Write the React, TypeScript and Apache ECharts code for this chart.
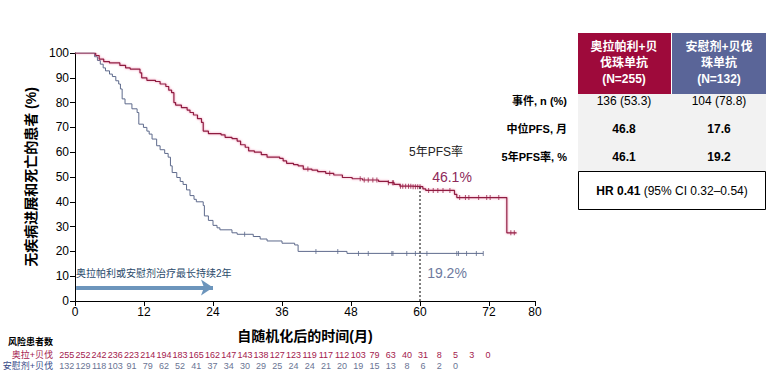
import React, { useEffect, useRef } from "react";
import * as echarts from "echarts";

// ---- data ----
const xTickMax = 80;
const olaparibCurve: [number, number][] = [
  [0, 100], [3.6, 99], [4.2, 97.5], [5, 96.5], [6, 96], [7.8, 95], [8.8, 94], [9.6, 93.5],
  [11.3, 92], [11.6, 90], [12.5, 89], [14, 88.5], [14.8, 87.5], [15.8, 86.5], [16.3, 85],
  [16.8, 84], [17.2, 80], [17.5, 79], [18.5, 78], [19.5, 77], [20, 76], [20.6, 75],
  [21.3, 73.5], [22, 72], [22.3, 68.5], [23.2, 67.5], [25.4, 67], [26.1, 66], [27.3, 65.5],
  [28.2, 64.5], [28.8, 63], [29.6, 62], [30.2, 60.5], [31.2, 60], [32.4, 59], [33.4, 58],
  [35.6, 57.5], [36.2, 56.5], [36.8, 55.5], [38, 55], [38.8, 54.5], [39.7, 53.2],
  [41.2, 52.8], [42.2, 52.2], [43.6, 51.5], [45, 50.8], [46.5, 49.8], [48.2, 49.3],
  [50, 48.8], [52.8, 48.2], [54.5, 47.7], [55.5, 47], [56.5, 46.3], [58.5, 46.1],
  [60.5, 45.2], [61, 44.6], [66, 43], [66.4, 41.7], [75.1, 27.5], [76.8, 27.5],
];
const placeboCurve: [number, number][] = [
  [0, 100], [3.4, 98.5], [3.9, 97], [4.4, 95.5], [4.9, 94], [5.3, 92.8], [6, 91.5],
  [6.5, 90.5], [7.1, 88.8], [7.6, 87.5], [7.9, 85.5], [8.2, 81.5], [8.7, 79.5], [9.9, 77.5],
  [10.8, 76], [11.1, 71.3], [11.9, 70], [12.5, 68.5], [12.9, 67.3], [13.4, 65.3],
  [14.2, 62.6], [14.8, 61], [15.6, 59.5], [16.2, 58], [16.6, 54.5], [16.9, 51.8],
  [17.7, 49.8], [18.3, 48.2], [18.8, 47], [19.4, 44.8], [20, 42.5], [20.7, 41], [21.1, 40],
  [22.3, 38.5], [22.5, 34.3], [23.2, 32.5], [24, 30.5], [24.7, 29.5], [25.2, 28.7],
  [27.3, 27.5], [28.2, 26.9], [31, 26], [32.2, 25], [33.4, 24.2], [36, 23.3], [38.2, 22.6],
  [38.8, 20], [47.3, 19.2], [71, 19.2],
];
const olaparibCensorMonths = [
  40.5, 44.3, 49.6, 50.3, 51, 51.8, 52.5, 54.5, 55.2, 55.4, 56.6, 57, 57.5, 58, 58.4, 58.8,
  59.2, 59.6, 60, 61.5, 62.3, 63.1, 64, 65.2, 66.9, 67.9, 68.5, 70.2, 71.6, 72.2, 73.7,
  75.8, 76.4,
];
const placeboCensorMonths = [
  29.5, 41.9, 45.7, 49.3, 51, 55.1, 55.3, 57.7, 59.2, 61.2, 66.4, 66.7, 68.1, 69.8, 71,
];
const olaparibAtRisk = [255, 252, 242, 236, 223, 214, 194, 183, 165, 162, 147, 143, 138, 127, 123, 119, 117, 112, 103, 79, 63, 40, 31, 8, 5, 3, 0];
const placeboAtRisk = [132, 129, 118, 103, 91, 79, 62, 52, 41, 37, 34, 30, 29, 25, 24, 24, 21, 20, 19, 15, 13, 8, 6, 2, 0];
const pfs5Year = { month: 60, olaparib: 46.1, placebo: 19.2 };
const treatmentMonths = 24;
const tableRowLabels = ["事件, n (%)", "中位PFS, 月", "5年PFS率, %"];
const olaparibStats = ["136 (53.3)", "46.8", "46.1"];
const placeboStats = ["104 (78.8)", "17.6", "19.2"];
const olaparibHeader = ["奥拉帕利+贝", "伐珠单抗", "(N=255)"];
const placeboHeader = ["安慰剂+贝伐", "珠单抗", "(N=132)"];

// ---- style ----
const FONT = "'Liberation Sans', Arial, 'Noto Sans CJK SC', sans-serif";
const RED = "#8E1A40";
const BLUE = "#5E6A8C";
const RED_TXT = "#A3204D";
const BLUE_TXT = "#6A7494";

function valueAt(curve: [number, number][], t: number): number {
  let v = curve[0][1];
  for (const [m, s] of curve) {
    if (m <= t) v = s;
    else break;
  }
  return v;
}

export default function App() {
  const ref = useRef<HTMLDivElement>(null);

  useEffect(() => {
    if (!ref.current) return;
    const chart = echarts.init(ref.current, undefined, { renderer: "svg" });

    const gridLeft = 75;
    const graphics: any[] = [];
    const txt = (text: string, x: number, y: number, o: any = {}) =>
      graphics.push({
        type: "text",
        x,
        y,
        silent: true,
        style: {
          text,
          fill: o.fill || "#000",
          fontSize: o.fontSize || 12,
          fontWeight: o.fontWeight || "normal",
          fontFamily: FONT,
          textAlign: o.align || "left",
          textVerticalAlign: "middle",
          rich: o.rich,
        },
      });

    // annotations
    txt("5年PFS率", 436, 152, { align: "center", fontSize: 12, fill: "#222" });
    txt("46.1%", 452, 177, { align: "center", fontSize: 14, fill: "#8E2A5A" });
    txt("19.2%", 447, 273, { align: "center", fontSize: 14, fill: "#6E7A9E" });
    txt("奥拉帕利或安慰剂治疗最长持续2年", 76, 273, { fontSize: 10, fill: "#2B4A6B" });

    // risk table
    txt("风险患者数", 8, 342, { fontSize: 9, fontWeight: "bold" });
    txt("奥拉+贝伐", 53, 355, { fontSize: 9, fill: RED_TXT, align: "right" });
    txt("安慰剂+贝伐", 53, 366, { fontSize: 9, fill: "#3A4C8A", align: "right" });
    olaparibAtRisk.forEach((n, i) =>
      txt(String(n), 66.7 + i * 16.2, 355, { fontSize: 9, fill: RED_TXT, align: "center" })
    );
    placeboAtRisk.forEach((n, i) =>
      txt(String(n), 66.7 + i * 16.2, 366, { fontSize: 9, fill: BLUE_TXT, align: "center" })
    );

    // right table
    graphics.push({ type: "rect", shape: { x: 578, y: 33, width: 93, height: 61 }, style: { fill: "#9E0A3B" } });
    graphics.push({ type: "rect", shape: { x: 672, y: 33, width: 94, height: 61 }, style: { fill: "#5A6598" } });
    graphics.push({ type: "rect", shape: { x: 578, y: 94, width: 188, height: 77 }, style: { fill: "#F2F2F2" } });
    graphics.push({
      type: "rect",
      shape: { x: 578.5, y: 171.5, width: 187, height: 38 },
      style: { fill: "#fff", stroke: "#000", lineWidth: 1 },
    });
    olaparibHeader.forEach((t, i) =>
      txt(t, 624, 47 + i * 16, { fontSize: 12, fontWeight: "bold", fill: "#fff", align: "center" })
    );
    placeboHeader.forEach((t, i) =>
      txt(t, 719, 47 + i * 16, { fontSize: 12, fontWeight: "bold", fill: "#fff", align: "center" })
    );
    tableRowLabels.forEach((t, i) =>
      txt(t, 567, 101 + i * 28, { fontSize: 11, fontWeight: "bold", align: "right" })
    );
    olaparibStats.forEach((t, i) =>
      txt(t, 624, 101 + i * 28, { fontSize: 12, fontWeight: i === 0 ? "normal" : "bold", align: "center" })
    );
    placeboStats.forEach((t, i) =>
      txt(t, 719, 101 + i * 28, { fontSize: 12, fontWeight: i === 0 ? "normal" : "bold", align: "center" })
    );
    txt("{b|HR 0.41} {n|(95% CI 0.32–0.54)}", 672, 191, {
      align: "center",
      rich: {
        b: { fontSize: 12, fontWeight: "bold", fontFamily: FONT, fill: "#000" },
        n: { fontSize: 12, fontFamily: FONT, fill: "#000" },
      },
    });

    const censorSym = { symbol: "rect", symbolSize: [1, 5] };

    chart.setOption({
      animation: false,
      textStyle: { fontFamily: FONT },
      grid: { left: gridLeft, right: 247, top: 53, bottom: 78 },
      xAxis: {
        type: "value",
        min: 0,
        max: xTickMax,
        interval: 12,
        name: "自随机化后的时间(月)",
        nameLocation: "middle",
        nameGap: 28,
        nameTextStyle: { fontSize: 14, fontWeight: "bold", color: "#000" },
        axisLine: { lineStyle: { color: "#000" } },
        axisTick: { show: true, length: 5, lineStyle: { color: "#000" } },
        axisLabel: { fontSize: 12, color: "#000", margin: 5 },
        splitLine: { show: false },
      },
      yAxis: {
        type: "value",
        min: 0,
        max: 100,
        interval: 10,
        name: "无疾病进展和死亡的患者 (%)",
        nameLocation: "middle",
        nameRotate: 90,
        nameGap: 36,
        nameTextStyle: { fontSize: 14, fontWeight: "bold", color: "#000" },
        axisLine: { show: true, lineStyle: { color: "#000" } },
        axisTick: { show: true, length: 5, lineStyle: { color: "#000" } },
        axisLabel: { fontSize: 12, color: "#000", margin: 6 },
        splitLine: { show: false },
      },
      series: [
        {
          type: "line",
          step: "end",
          data: placeboCurve,
          symbol: "none",
          lineStyle: { color: BLUE, width: 1 },
          markLine: {
            silent: true,
            symbol: ["none", "arrow"],
            symbolSize: [12, 12],
            label: { show: false },
            lineStyle: { color: "#6C95BC", width: 4, type: "solid" },
            data: [[{ coord: [0.2, 5.4] }, { coord: [treatmentMonths, 5.4] }]],
          },
        },
        {
          type: "line",
          step: "end",
          data: olaparibCurve,
          symbol: "none",
          lineStyle: {
            color: RED,
            width: 1.2,
            shadowColor: "rgba(235,90,140,0.7)",
            shadowBlur: 2,
          },
        },
        {
          type: "scatter",
          ...censorSym,
          itemStyle: { color: BLUE },
          data: placeboCensorMonths.map((m) => [m, valueAt(placeboCurve, m)]),
        },
        {
          type: "scatter",
          ...censorSym,
          itemStyle: { color: RED },
          data: olaparibCensorMonths.map((m) => [m, valueAt(olaparibCurve, m)]),
        },
        {
          type: "line",
          data: [
            [pfs5Year.month, 0],
            [pfs5Year.month, pfs5Year.olaparib],
          ],
          symbol: "none",
          lineStyle: { color: "#000", width: 1, type: [2, 2] },
        },
      ],
      graphic: graphics,
    });

    return () => chart.dispose();
  }, []);

  return (
    <div
      ref={ref}
      style={{ position: "fixed", left: 0, top: 0, width: 782, height: 379, background: "#fff" }}
    />
  );
}
